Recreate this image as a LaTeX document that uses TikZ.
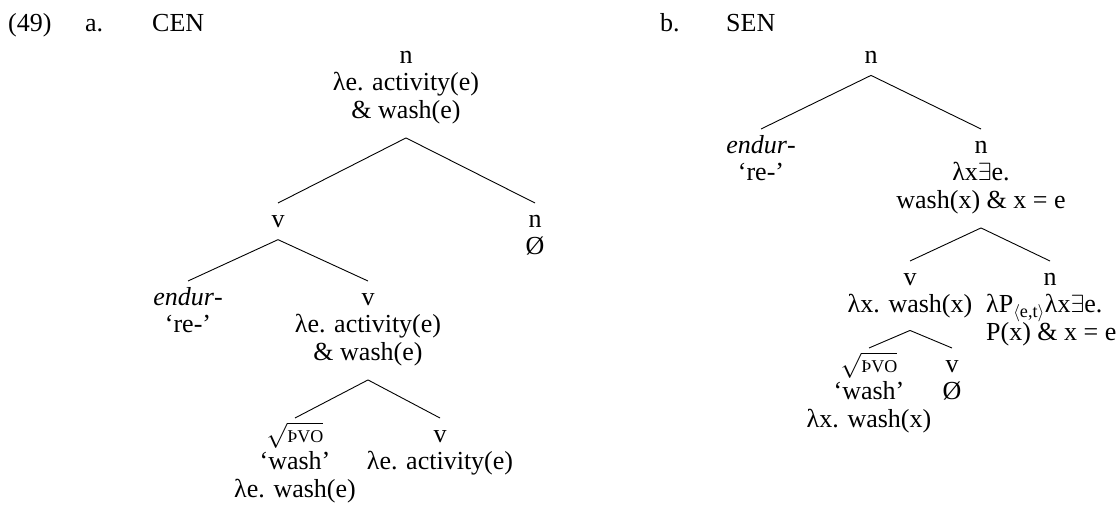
\documentclass[tikz,border=0pt]{standalone}
\usepackage{fontspec}
\setmainfont{Liberation Serif}
\usetikzlibrary{positioning}

\newcommand{\treefont}{\fontsize{26}{27.5}\selectfont}
\newcommand{\tp}{\rule{0pt}{24pt}}
\newcommand{\rootthorn}{$\sqrt{\hbox{\fontsize{18}{20}\selectfont ÞVO}}$}

\begin{document}
\begin{tikzpicture}[
  x=1pt, y=-1pt,
  lab/.style={align=center, anchor=north, inner xsep=1pt, inner ysep=0pt, font=\treefont},
  hdr/.style={anchor=base west, inner sep=0pt, font=\treefont},
  branch/.style={line width=0.9pt}
]
\useasboundingbox (0,0) rectangle (1119,508);

% example headings
\node[hdr] (exnum) at (8,32) {(49)};
\node[hdr] (lbla) at (85,32) {a.};
\node[hdr] (ttla) at (152,32) {CEN};
\node[hdr] (lblb) at (660,32) {b.};
\node[hdr] (ttlb) at (726,32) {SEN};

% (a) CEN
\node[lab] (rootA) at (406,39) {\tp n\\λe. activity(e)\\\& wash(e)};
\node[lab] (vA) at (278,203) {\tp v};
\node[lab] (nA) at (535,203) {\tp n\\Ø};
\node[lab] (prefA) at (188,281) {\tp\textit{endur}-\\‘re-’};
\node[lab] (vAtwo) at (368,281) {\tp v\\λe. activity(e)\\\& wash(e)};
\node[lab] (rtA) at (295,418) {\tp\rootthorn\\‘wash’\\λe. wash(e)};
\node[lab] (vAthree) at (440,418) {\tp v\\λe. activity(e)};

\draw[branch] ([yshift=-14pt]rootA.south) -- (vA.north);
\draw[branch] ([yshift=-14pt]rootA.south) -- (nA.north);
\draw[branch] ([yshift=-12pt]vA.south) -- (prefA.north);
\draw[branch] ([yshift=-12pt]vA.south) -- (vAtwo.north);
\draw[branch] ([yshift=-14pt]vAtwo.south) -- (rtA.north);
\draw[branch] ([yshift=-14pt]vAtwo.south) -- (vAthree.north);

% (b) SEN
\node[lab] (rootB) at (871,39) {\tp n};
\node[lab] (prefB) at (761,129) {\tp\textit{endur}-\\‘re-’};
\node[lab] (nB) at (981,129) {\tp n\\λx$\exists$e.\\wash(x) \& x = e};
\node[lab] (vB) at (910,261) {\tp v\\λx. wash(x)};
\node[lab] (nBtwo) at (1050,261) {\tp n};
\node[lab, align=left, anchor=north west] (nBsem) at (985,288.5)
  {\tp λP\textsubscript{$\langle$e,t$\rangle$}λx$\exists$e.\\P(x) \& x = e};
\node[lab] (rtB) at (869,348) {\tp\rootthorn\\‘wash’\\λx. wash(x)};
\node[lab] (vBtwo) at (952,348) {\tp v\\Ø};

\draw[branch] ([yshift=-12pt]rootB.south) -- (prefB.north);
\draw[branch] ([yshift=-12pt]rootB.south) -- (nB.north);
\draw[branch] ([yshift=-14pt]nB.south) -- (vB.north);
\draw[branch] ([yshift=-14pt]nB.south) -- (nBtwo.north);
\draw[branch] ([yshift=-12pt]vB.south) -- (rtB.north);
\draw[branch] ([yshift=-12pt]vB.south) -- (vBtwo.north);
\end{tikzpicture}
\end{document}
